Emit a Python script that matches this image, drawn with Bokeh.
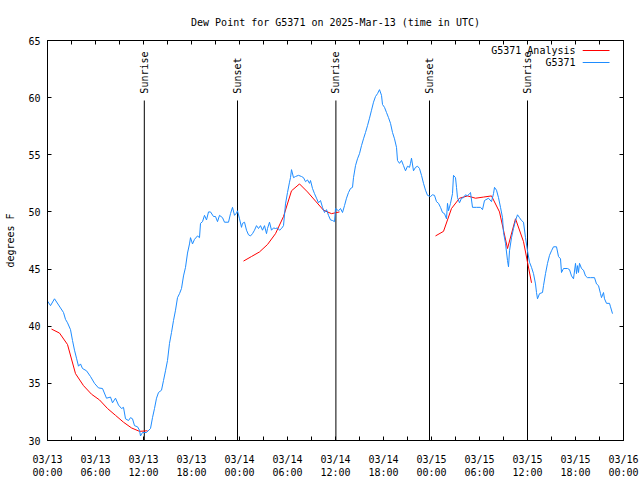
import math
from bokeh.plotting import figure
from bokeh.models import FixedTicker, LinearAxis, Range1d
from bokeh.core.properties import value
from bokeh.embed import file_html
from bokeh.resources import INLINE

# ---------------- data ----------------
title_text = "Dew Point for G5371 on 2025-Mar-13 (time in UTC)"
y_label = "degrees F"
obs_name = "G5371"
ana_name = "G5371 Analysis"

# x is hours since 2025-03-13 00:00 UTC
x_ticks = [0, 6, 12, 18, 24, 30, 36, 42, 48, 54, 60, 66, 72]
x_tick_labels = ["03/13\n00:00", "03/13\n06:00", "03/13\n12:00", "03/13\n18:00",
                 "03/14\n00:00", "03/14\n06:00", "03/14\n12:00", "03/14\n18:00",
                 "03/15\n00:00", "03/15\n06:00", "03/15\n12:00", "03/15\n18:00",
                 "03/16\n00:00"]
x_minor_ticks = [3, 9, 15, 21, 27, 33, 39, 45, 51, 57, 63, 69]
y_ticks = [30, 35, 40, 45, 50, 55, 60, 65]

sun_hours = [12.1, 23.75, 36.05, 47.75, 60.0]
sun_labels = ["Sunrise", "Sunset", "Sunrise", "Sunset", "Sunrise"]

obs_hours = [0, 0.375, 0.875, 1.625, 2.0, 2.25, 2.5, 2.875, 3.125, 3.375, 3.625, 3.875,
             4.125, 4.375, 4.875, 5.375, 5.875, 6.375, 6.875, 7.375, 7.875, 8.125, 8.5,
             8.875, 9.25, 9.5, 9.75, 10.125, 10.375, 10.625, 10.875, 11.25, 11.5, 11.625,
             11.875, 12.375, 12.875, 13.125, 13.375, 13.625, 13.875, 14.25, 14.5, 14.75,
             15.0, 15.25, 15.5, 15.75, 16.0, 16.25, 16.5, 16.75, 17.0, 17.25, 17.5, 17.75,
             17.875, 18.125, 18.375, 18.75, 19.0, 19.125, 19.375, 19.625, 19.875, 20.125,
             20.375, 20.75, 21.0, 21.25, 21.5, 21.875, 22.125, 22.625, 22.875, 23.125,
             23.375, 23.625, 23.75, 24.0, 24.25, 24.375, 24.625, 24.875, 25.125, 25.375,
             25.625, 25.875, 26.125, 26.375, 26.625, 26.875, 27.125, 27.375, 27.5, 27.75,
             28.0, 28.25, 28.5, 28.75, 29.0, 29.25, 29.5, 29.75, 30.0, 30.25, 30.375, 30.5,
             30.75, 31.0, 31.375, 31.75, 32.0, 32.25, 32.5, 32.75, 32.875, 33.125, 33.375,
             33.625, 33.875, 34.125, 34.375, 34.625, 34.875, 35.125, 35.375, 35.625,
             35.875, 36.0, 36.375, 36.625, 36.875, 37.125, 37.375, 37.625, 37.875, 38.125,
             38.25, 38.5, 38.75, 39.0, 39.25, 39.5, 39.75, 40.0, 40.25, 40.5, 40.75, 41.0,
             41.25, 41.5, 41.75, 41.875, 42.125, 42.375, 42.625, 42.875, 43.125, 43.375,
             43.625, 43.75, 44.0, 44.25, 44.5, 44.75, 45.0, 45.25, 45.375, 45.5, 45.75,
             46.0, 46.25, 46.5, 46.75, 47.0, 47.25, 47.5, 47.875, 48.125, 48.375, 48.625,
             48.875, 49.125, 49.375, 49.625, 49.875, 50.0, 50.125, 50.375, 50.625, 50.75,
             51.0, 51.125, 51.25, 51.5, 51.75, 52.0, 52.25, 52.5, 52.75, 52.875, 53.125,
             53.625, 54.125, 54.375, 54.625, 55.125, 55.5, 55.75, 55.875, 56.125, 56.375,
             56.625, 56.875, 57.0, 57.25, 57.5, 57.625, 57.75, 58.0, 58.25, 58.5, 58.75,
             59.0, 59.25, 59.5, 59.75, 60.0, 60.25, 60.5, 60.75, 61.0, 61.125, 61.25, 61.5,
             61.875, 62.0, 62.25, 62.5, 62.75, 63.0, 63.25, 63.625, 63.875, 64.125, 64.25,
             64.5, 65.0, 65.25, 65.5, 65.75, 66.0, 66.125, 66.25, 66.375, 66.5, 66.75, 67.0,
             67.25, 67.5, 67.875, 68.375, 68.625, 68.875, 69.125, 69.25, 69.5, 69.625,
             69.875, 70.25, 70.375, 70.625]
obs_dew = [42.2, 41.8, 42.4, 41.6, 41.2, 40.6, 40.3, 39.7, 38.75, 37.9, 37.2, 36.5,
           36.7, 36.3, 36.1, 35.6, 35.0, 34.6, 34.55, 33.7, 33.8, 33.3, 33.7,
           33.1, 32.8, 32.9, 31.9, 31.75, 32.0, 31.9, 31.3, 31.2, 30.9, 30.4,
           30.7, 30.7, 31.05, 32.0, 32.8, 33.7, 34.2, 34.4, 35.25, 36.1,
           37.0, 38.5, 39.45, 40.5, 41.4, 42.5, 42.85, 43.3, 44.4, 45.15, 46.4, 47.2,
           47.75, 47.2, 47.6, 47.9, 47.75, 49.0, 49.15, 49.7, 49.3, 50.0,
           50.0, 49.6, 49.6, 49.15, 49.7, 49.5, 49.1, 49.1, 49.85, 50.4,
           49.7, 49.9, 50.1, 49.4, 48.65, 49.0, 49.1, 48.4, 48.0, 47.9,
           48.1, 48.4, 48.8, 48.55, 48.8, 48.4, 48.8, 48.1, 48.55, 49.1,
           48.4, 48.6, 48.55, 48.6, 48.4, 48.55, 48.8, 50.7, 51.7, 52.6, 53.0, 53.7,
           53.0, 53.1, 53.2, 53.1, 53.0, 52.65, 52.8, 52.5, 52.75, 52.05, 51.6,
           51.2, 50.8, 51.0, 50.4, 49.95, 50.2, 49.7, 49.3, 49.25,
           49.15, 50.3, 50.1, 50.3, 49.95, 50.55, 51.2, 51.7, 52.05, 52.15,
           53.0, 54.05, 54.65, 55.1, 55.8, 56.4, 56.95, 57.55, 58.2, 58.9, 59.6, 60.1,
           60.35, 60.7, 60.2, 59.4, 59.15, 58.7, 58.25, 57.75, 56.95, 56.4,
           55.65, 54.5, 54.25, 54.5, 54.05, 53.6, 54.0, 53.9, 54.25, 54.7, 53.6,
           53.9, 54.0, 53.8, 53.2, 52.5, 51.9, 51.45, 51.35, 51.5, 51.45, 50.9,
           50.75, 50.4, 49.95, 49.85, 49.4, 50.75, 50.1, 50.75, 51.6, 53.2,
           53.0, 52.15, 51.25, 50.8, 51.2, 51.25, 51.5, 51.4, 51.6, 51.7, 50.4,
           50.4, 50.4, 50.2, 51.0, 51.2, 50.9, 51.6, 52.15, 51.9, 51.25,
           50.4, 49.5, 48.2, 47.25, 45.75, 45.2, 46.6, 47.75, 48.55, 49.25, 49.75,
           49.5, 49.25, 49.1, 47.75, 46.6, 45.6, 45.15, 44.6, 43.7, 42.95, 42.4, 42.85,
           42.95, 43.55, 44.6, 45.5, 46.2, 46.6, 46.95, 46.95, 46.1, 45.9, 44.7,
           45.05, 45.05, 44.95, 44.4, 44.15, 45.5, 44.6, 45.3, 44.7, 45.5, 45.05, 44.9,
           44.4, 44.25, 44.25, 44.25, 43.7, 43.55, 42.85, 42.5, 42.95, 42.4,
           42.0, 42.0, 41.7, 41.1]

ana_hours = [0.5, 1.5, 2.5, 3.5, 4.5, 5.5, 6.5, 7.5, 8.5, 9.5, 10.5, 11.5, 12.5,
             24.5, 25.5, 26.5, 27.5, 28.5, 29.5, 30.5, 31.5, 32.5, 33.5, 34.5, 35.5, 36.5,
             48.5, 49.5, 50.5, 51.5, 52.5, 53.5, 54.5, 55.5, 56.5, 57.5, 58.5, 59.5, 60.5]
ana_dew = [39.75, 39.4, 38.4, 35.85, 34.8, 34.05, 33.55, 32.8, 32.2, 31.6, 31.1, 30.8, 30.85,
           45.7, 46.1, 46.5, 47.15, 48.1, 49.6, 51.85, 52.45, 51.75, 50.95, 50.15, 49.85, 50.0,
           47.9, 48.3, 50.3, 51.2, 51.4, 51.2, 51.3, 51.4, 50.0, 46.8, 49.4, 47.4, 43.8]

# ---------------- style ----------------
FONT = "DejaVu Sans Mono"
FS = "10px"
BLUE = "#1e8cff"
RED = "#ff0000"
X0, X1 = 0, 72
Y0, Y1 = 30, 65

p = figure(width=640, height=480, output_backend="svg", toolbar_location=None,
           x_range=Range1d(X0, X1), y_range=Range1d(Y0, Y1),
           min_border_left=47, min_border_right=17, min_border_top=40, min_border_bottom=40)
p.background_fill_color = "white"
p.border_fill_color = "white"
p.outline_line_color = "black"
p.outline_line_width = 1
p.xgrid.visible = False
p.ygrid.visible = False

p.title.text = title_text
p.title.align = "center"
p.title.text_font = FONT
p.title.text_font_size = FS
p.title.text_font_style = "normal"
p.title.text_color = "black"
p.title.standoff = 25

xt = FixedTicker(ticks=x_ticks, minor_ticks=x_minor_ticks)
yt = FixedTicker(ticks=y_ticks, minor_ticks=[])


def style_axis(ax):
    ax.major_tick_in = 4
    ax.major_tick_out = 0
    ax.minor_tick_in = 4
    ax.minor_tick_out = 0
    ax.axis_line_color = "black"
    ax.major_tick_line_color = "black"
    ax.minor_tick_line_color = "black"
    ax.major_label_text_font = FONT
    ax.major_label_text_font_size = FS
    ax.major_label_text_color = "black"


xa = p.xaxis[0]
xa.ticker = xt
xa.major_label_overrides = {t: lab for t, lab in zip(x_ticks, x_tick_labels)}
style_axis(xa)
xa.major_label_standoff = 13

ya = p.yaxis[0]
ya.ticker = yt
style_axis(ya)
ya.major_label_standoff = 7
ya.axis_label = y_label
ya.axis_label_text_font = FONT
ya.axis_label_text_font_size = FS
ya.axis_label_text_font_style = "normal"
ya.axis_label_text_color = "black"
ya.axis_label_standoff = 9

# mirrored tick axes without labels
top = LinearAxis(ticker=xt)
style_axis(top)
top.major_label_text_font_size = "1px"
top.major_label_text_color = None
top.major_label_standoff = 0
p.add_layout(top, "above")
right = LinearAxis(ticker=yt)
style_axis(right)
right.major_label_text_font_size = "1px"
right.major_label_text_color = None
right.major_label_standoff = 0
p.add_layout(right, "right")

# sunrise / sunset markers
line_top = Y1 - 5.25
label_base = Y1 - 4.65
p.segment(x0=sun_hours, y0=[Y0] * len(sun_hours), x1=sun_hours, y1=[line_top] * len(sun_hours),
          line_color="black", line_width=1)
p.text(x=sun_hours, y=[label_base] * len(sun_hours), text=sun_labels, angle=math.pi / 2,
       text_align="left", text_baseline="middle", text_font=value(FONT),
       text_font_size=value(FS), text_color="black")

# analysis series split into runs
xs, ys = [], []
cur_x, cur_y = [], []
for h, v in zip(ana_hours, ana_dew):
    if cur_x and h - cur_x[-1] > 1.5:
        xs.append(cur_x)
        ys.append(cur_y)
        cur_x, cur_y = [], []
    cur_x.append(h)
    cur_y.append(v)
xs.append(cur_x)
ys.append(cur_y)
p.multi_line(xs, ys, line_color=RED, line_width=1)

p.line(obs_hours, obs_dew, line_color=BLUE, line_width=1)

# legend (gnuplot style: text then sample to its right)
leg_text_x = X1 - 6.0
leg_s0 = X1 - 5.1
leg_s1 = X1 - 1.75
leg_y = [Y1 - 0.875, Y1 - 1.925]
p.text(x=[leg_text_x, leg_text_x], y=leg_y, text=[ana_name, obs_name], text_align="right",
       text_baseline="middle", text_font=value(FONT), text_font_size=value(FS),
       text_color="black")
p.line(x=[leg_s0, leg_s1], y=[leg_y[0], leg_y[0]], line_color=RED, line_width=1)
p.line(x=[leg_s0, leg_s1], y=[leg_y[1], leg_y[1]], line_color=BLUE, line_width=1)

open("out.html", "w").write(file_html(p, INLINE))
